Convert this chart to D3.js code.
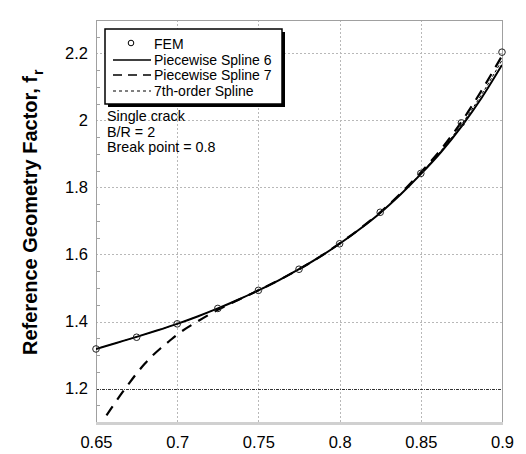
<!DOCTYPE html>
<html>
<head>
<meta charset="utf-8">
<script src="https://cdn.jsdelivr.net/npm/d3@7"></script>
<style>
  html, body { margin: 0; padding: 0; background: #fff; }
  svg { display: block; font-family: "Liberation Sans", Arial, sans-serif; }
</style>
</head>
<body>
<svg id="chart" width="526" height="454"></svg>
<script>
// FEM results: crack-depth ratio vs. reference geometry factor
const femX = [0.65, 0.675, 0.7, 0.725, 0.75, 0.775, 0.8, 0.825, 0.85, 0.875, 0.9];
const femY = [1.318, 1.353, 1.393, 1.439, 1.493, 1.556, 1.632, 1.726, 1.842, 1.993, 2.204];

// Piecewise Spline 6 (solid)
const spline6X = [0.65, 0.6625, 0.675, 0.6875, 0.7, 0.7125, 0.725, 0.7375, 0.75, 0.7625, 0.775, 0.7875, 0.8, 0.8125, 0.825, 0.8375, 0.85, 0.8625, 0.875, 0.8875, 0.9];
const spline6Y = [1.318, 1.336, 1.354, 1.373, 1.393, 1.415, 1.439, 1.465, 1.493, 1.523, 1.556, 1.592, 1.632, 1.676, 1.724, 1.779, 1.840, 1.906, 1.982, 2.068, 2.166];

// Piecewise Spline 7 (long dash)
const spline7X = [0.6537, 0.66, 0.665, 0.67, 0.675, 0.68, 0.685, 0.69, 0.695, 0.7, 0.7125, 0.725, 0.7375, 0.75, 0.7625, 0.775, 0.7875, 0.8, 0.8125, 0.825, 0.8375, 0.85, 0.8625, 0.875, 0.8875, 0.9];
const spline7Y = [1.10, 1.145, 1.18, 1.213, 1.245, 1.274, 1.299, 1.321, 1.341, 1.361, 1.400, 1.435, 1.464, 1.493, 1.523, 1.556, 1.592, 1.633, 1.677, 1.726, 1.782, 1.845, 1.914, 1.996, 2.090, 2.193];

// 7th-order Spline (short dash)
const order7X = [0.65, 0.6625, 0.675, 0.6875, 0.7, 0.7125, 0.725, 0.7375, 0.75, 0.7625, 0.775, 0.7875, 0.8, 0.8125, 0.825, 0.8375, 0.85, 0.8625, 0.875, 0.8875, 0.9];
const order7Y = [1.318, 1.336, 1.354, 1.373, 1.393, 1.415, 1.439, 1.465, 1.493, 1.523, 1.556, 1.592, 1.632, 1.676, 1.725, 1.780, 1.842, 1.910, 1.988, 2.078, 2.180];

const xTicks = [0.65, 0.7, 0.75, 0.8, 0.85, 0.9];
const xTickLabels = ["0.65", "0.7", "0.75", "0.8", "0.85", "0.9"];
const yTicks = [1.2, 1.4, 1.6, 1.8, 2.0, 2.2];
const yTickLabels = ["1.2", "1.4", "1.6", "1.8", "2", "2.2"];
const yMinorTicks = [1.15, 1.25, 1.3, 1.35, 1.45, 1.5, 1.55, 1.65, 1.7, 1.75, 1.85, 1.9, 1.95, 2.05, 2.1, 2.15, 2.25];
const refLevel = 1.2;

const legendLabels = ["FEM", "Piecewise Spline 6", "Piecewise Spline 7", "7th-order Spline"];
const noteLines = ["Single crack", "B/R = 2", "Break point = 0.8"];

const svg = d3.select("#chart");
const pL = 96, pR = 502, pT = 20, pB = 422;

const x = d3.scaleLinear().domain([0.65, 0.9]).range([pL, pR]);
const y = d3.scaleLinear().domain([1.1, 2.3]).range([pB, pT]);

svg.append("defs").append("clipPath").attr("id", "plotClip")
  .append("rect").attr("x", pL).attr("y", pT).attr("width", pR - pL).attr("height", pB - pT);

// Grid
const grid = svg.append("g");
grid.selectAll("line.gx").data(xTicks.slice(1, -1)).enter().append("line")
  .attr("x1", d => Math.round(x(d)) + 0.5).attr("x2", d => Math.round(x(d)) + 0.5).attr("y1", pT).attr("y2", pB)
  .attr("stroke", "#b8b8b8").attr("stroke-width", 1).attr("stroke-dasharray", "2,2");
grid.selectAll("line.gy").data(yTicks.filter(d => d !== refLevel)).enter().append("line")
  .attr("x1", pL).attr("x2", pR).attr("y1", d => Math.round(y(d)) + 0.5).attr("y2", d => Math.round(y(d)) + 0.5)
  .attr("stroke", "#b8b8b8").attr("stroke-width", 1).attr("stroke-dasharray", "2,2");
grid.append("line")
  .attr("x1", pL).attr("x2", pR).attr("y1", Math.round(y(refLevel)) + 0.5).attr("y2", Math.round(y(refLevel)) + 0.5)
  .attr("stroke", "#333").attr("stroke-width", 1).attr("stroke-dasharray", "3,1,1,1");

// Frame
svg.append("rect").attr("x", pL + 0.5).attr("y", pT + 0.5).attr("width", pR - pL).attr("height", pB - pT)
  .attr("fill", "none").attr("stroke", "#a0a0a0").attr("stroke-width", 1);
svg.append("line").attr("x1", pL).attr("x2", pR + 1).attr("y1", pB + 1.5).attr("y2", pB + 1.5)
  .attr("stroke", "#d0d0d0").attr("stroke-width", 3);

// Left axis with inward minor ticks
const yAxis = d3.axisLeft(y).tickValues(yTicks).tickFormat((d, i) => yTickLabels[i]).tickSize(0).tickPadding(8);
const yg = svg.append("g").attr("transform", `translate(${pL},0)`).call(yAxis);
yg.select(".domain").remove();
yg.selectAll("text").attr("font-size", 16.5).attr("fill", "#000").attr("font-family", "Liberation Sans, Arial, sans-serif");
svg.selectAll("line.ymin").data(yMinorTicks).enter().append("line")
  .attr("x1", pL).attr("x2", pL + 4).attr("y1", d => Math.round(y(d)) + 0.5).attr("y2", d => Math.round(y(d)) + 0.5)
  .attr("stroke", "#a0a0a0").attr("stroke-width", 1);

// Bottom axis labels
const xAxis = d3.axisBottom(x).tickValues(xTicks).tickFormat((d, i) => xTickLabels[i]).tickSize(0).tickPadding(14);
const xg = svg.append("g").attr("transform", `translate(0,${pB})`).call(xAxis);
xg.select(".domain").remove();
xg.selectAll("text").attr("font-size", 16.5).attr("fill", "#000").attr("font-family", "Liberation Sans, Arial, sans-serif");

// Y title, running upward from its baseline start
const yTitle = svg.append("text")
  .attr("transform", "translate(37,355) rotate(-90)")
  .attr("text-anchor", "start").attr("font-size", 20).attr("font-weight", "bold");
yTitle.append("tspan").text("Reference Geometry Factor, f");
yTitle.append("tspan").attr("font-size", 14).attr("dy", 6).attr("dx", 1).text("r");

// Curves
const plot = svg.append("g").attr("clip-path", "url(#plotClip)");
const line = d3.line().x(d => x(d[0])).y(d => y(d[1])).curve(d3.curveMonotoneX);
const zip = (a, b) => a.map((v, i) => [v, b[i]]);

plot.append("path").datum(zip(order7X, order7Y)).attr("d", line)
  .attr("fill", "none").attr("stroke", "#000").attr("stroke-width", 1).attr("stroke-dasharray", "3,2");
plot.append("path").datum(zip(spline7X, spline7Y)).attr("d", line)
  .attr("fill", "none").attr("stroke", "#000").attr("stroke-width", 2.2)
  .attr("stroke-dasharray", "11,8").attr("stroke-dashoffset", 11);
plot.append("path").datum(zip(spline6X, spline6Y)).attr("d", line)
  .attr("fill", "none").attr("stroke", "#000").attr("stroke-width", 2);

svg.selectAll("circle.fem").data(zip(femX, femY)).enter().append("circle")
  .attr("cx", d => x(d[0])).attr("cy", d => y(d[1])).attr("r", 3.3)
  .attr("fill", "none").attr("stroke", "#222").attr("stroke-width", 1);

// Legend
const lg = svg.append("g");
const bx = 105, by = 29, bw = 177, bh = 75;
lg.append("rect").attr("x", bx + 3).attr("y", by + 3).attr("width", bw).attr("height", bh).attr("fill", "#000");
lg.append("rect").attr("x", bx).attr("y", by).attr("width", bw).attr("height", bh)
  .attr("fill", "#fff").attr("stroke", "#000").attr("stroke-width", 1.5);
const rowY = [44, 60, 75, 91];
const lx1 = 113, lx2 = 151;
lg.append("circle").attr("cx", (lx1 + lx2) / 2 - 1).attr("cy", rowY[0] - 1).attr("r", 2.8)
  .attr("fill", "none").attr("stroke", "#000").attr("stroke-width", 1);
lg.append("line").attr("x1", lx1).attr("x2", lx2).attr("y1", rowY[1]).attr("y2", rowY[1])
  .attr("stroke", "#000").attr("stroke-width", 1.5);
lg.append("line").attr("x1", lx1).attr("x2", lx2).attr("y1", rowY[2]).attr("y2", rowY[2])
  .attr("stroke", "#000").attr("stroke-width", 1.5).attr("stroke-dasharray", "9,6");
lg.append("line").attr("x1", lx1).attr("x2", lx2).attr("y1", rowY[3]).attr("y2", rowY[3])
  .attr("stroke", "#000").attr("stroke-width", 1).attr("stroke-dasharray", "3,3");
lg.selectAll("text").data(legendLabels).enter().append("text")
  .attr("x", 154).attr("y", (d, i) => rowY[i] + 5).attr("font-size", 14).text(d => d);

// Case description
svg.selectAll("text.note").data(noteLines).enter().append("text")
  .attr("x", 107).attr("y", (d, i) => 121 + i * 15.7).attr("font-size", 14.3).text(d => d);
</script>
</body>
</html>
